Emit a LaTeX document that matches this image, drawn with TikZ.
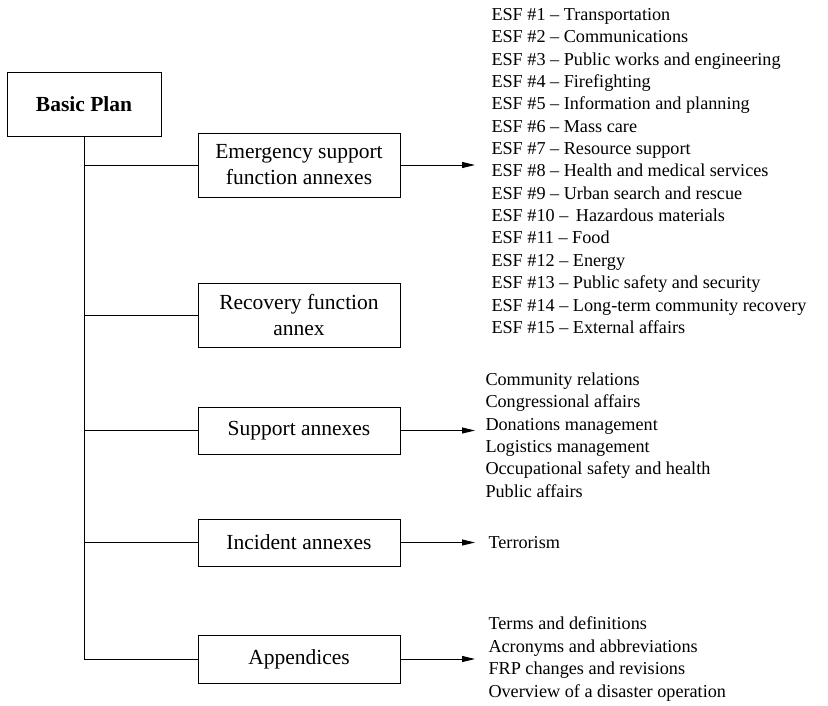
\documentclass[tikz,border=0pt]{standalone}
\usepackage{fontspec}
\setmainfont{Liberation Serif}
\usetikzlibrary{arrows.meta}
\begin{document}
\begin{tikzpicture}[x=1pt,y=-1pt,
  line width=1pt,
  boxnode/.style={draw, minimum width=202pt, inner sep=0pt, align=center,
    font=\fontsize{21.5}{26}\selectfont},
  listnode/.style={anchor=west, align=left, inner xsep=16pt, inner ysep=0pt,
    font=\fontsize{18.2}{22.35}\selectfont},
  arr/.style={-{Triangle[length=13pt,width=6pt]}}]
\useasboundingbox (0,0) rectangle (828,705);
\node[draw, minimum width=154pt, minimum height=64pt, inner sep=0pt,
  font=\fontsize{21.5}{26}\selectfont\bfseries] (bp) at (84,104) {Basic Plan};
\node[boxnode, minimum height=64pt] (esf) at (299,165) {Emergency support\\function annexes};
\node[boxnode, minimum height=64pt] (rec) at (299,315) {Recovery function\\annex};
\node[boxnode, minimum height=47pt] (sup) at (299,430.5) {Support annexes};
\node[boxnode, minimum height=47pt] (inc) at (299,542.5) {Incident annexes};
\node[boxnode, minimum height=48pt] (app) at (299,659) {Appendices};
\coordinate (bend) at (bp.south |- app.west);
\draw (bp.south) -- (bend) -- (app.west);
\draw (bp.south |- esf.west) -- (esf.west);
\draw (bp.south |- rec.west) -- (rec.west);
\draw (bp.south |- sup.west) -- (sup.west);
\draw (bp.south |- inc.west) -- (inc.west);
\node[listnode] (esflist) at (475,171) {ESF \#1 – Transportation\\
ESF \#2 – Communications\\
ESF \#3 – Public works and engineering\\
ESF \#4 – Firefighting\\
ESF \#5 – Information and planning\\
ESF \#6 – Mass care\\
ESF \#7 – Resource support\\
ESF \#8 – Health and medical services\\
ESF \#9 – Urban search and rescue\\
ESF \#10 – \,Hazardous materials\\
ESF \#11 – Food\\
ESF \#12 – Energy\\
ESF \#13 – Public safety and security\\
ESF \#14 – Long-term community recovery\\
ESF \#15 – External affairs};
\node[listnode, inner xsep=10pt] (suplist) at (475,435) {Community relations\\
Congressional affairs\\
Donations management\\
Logistics management\\
Occupational safety and health\\
Public affairs};
\node[listnode, inner xsep=13pt] (inclist) at (475,543) {Terrorism};
\node[listnode, inner xsep=13pt] (applist) at (475,659) {Terms and definitions\\
Acronyms and abbreviations\\
FRP changes and revisions\\
Overview of a disaster operation};
\draw[arr] (esf.east) -- (esf.east -| esflist.west);
\draw[arr] (sup.east) -- (sup.east -| suplist.west);
\draw[arr] (inc.east) -- (inc.east -| inclist.west);
\draw[arr] (app.east) -- (app.east -| applist.west);
\end{tikzpicture}
\end{document}
